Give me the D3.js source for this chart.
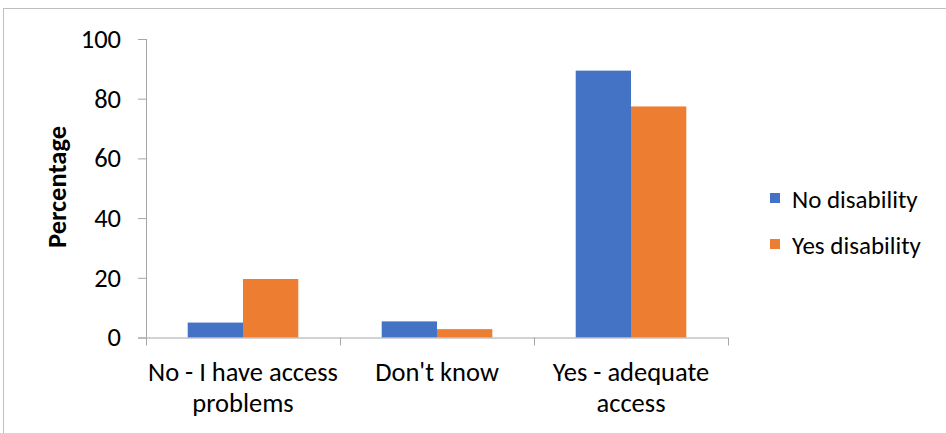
<!DOCTYPE html>
<html>
<head>
<meta charset="utf-8">
<script src="https://cdn.jsdelivr.net/npm/d3@7"></script>
<style>
  html, body { margin: 0; padding: 0; background: #fff; }
  svg { display: block; font-family: Carlito, Calibri, "Open Sans", sans-serif; }
</style>
</head>
<body>
<svg id="chart" width="946" height="433"></svg>
<script>
// Access to services by disability status (%)
const categories = [["No - I have access", "problems"], ["Don't know"], ["Yes - adequate", "access"]];
const categoryKeys = ["No - I have access problems", "Don't know", "Yes - adequate access"];
const seriesNames = ["No disability", "Yes disability"];
const noDisability = [5.0, 5.4, 89.4];
const yesDisability = [19.6, 2.8, 77.4];
const yTicks = [0, 20, 40, 60, 80, 100];
const colors = ["#4472c4", "#ed7d31"];

const FONT = "Carlito, Calibri, 'Open Sans', sans-serif";
const FS = 26.5;
const LEGEND_FS = 25;

const svg = d3.select("#chart");
const plot = { left: 146, right: 728, top: 39, bottom: 337.5 };

// outer chart frame
svg.append("rect")
  .attr("x", 3.5).attr("y", 8.5)
  .attr("width", 960).attr("height", 440)
  .attr("fill", "none").attr("stroke", "#bfbfbf").attr("stroke-width", 1);

const x = d3.scaleBand().domain(categoryKeys).range([plot.left, plot.right]).paddingInner(0).paddingOuter(0);
const inner = d3.scaleBand().domain(seriesNames).range([0, x.bandwidth()]).paddingInner(0).paddingOuter(0.754);
const y = d3.scaleLinear().domain([0, 100]).range([plot.bottom, plot.top]);

const rows = categoryKeys.map((k, i) => ({ key: k, values: [noDisability[i], yesDisability[i]] }));

// bars
const groups = svg.append("g").selectAll("g").data(rows).join("g")
  .attr("transform", d => `translate(${x(d.key)},0)`);
groups.selectAll("rect").data(d => d.values.map((v, j) => ({ name: seriesNames[j], v, j })))
  .join("rect")
  .attr("x", d => inner(d.name))
  .attr("width", inner.bandwidth())
  .attr("y", d => y(d.v))
  .attr("height", d => y(0) - y(d.v))
  .attr("fill", d => colors[d.j]);

// y axis
const yAxis = svg.append("g").attr("transform", `translate(${plot.left},0)`)
  .call(d3.axisLeft(y).tickValues(yTicks).tickSize(8).tickPadding(17).tickSizeOuter(0));
yAxis.select(".domain").attr("stroke", "#a6a6a6").attr("d", `M0.5,${plot.top}V${plot.bottom}`);
yAxis.selectAll(".tick line").attr("stroke", "#a6a6a6");
yAxis.selectAll(".tick text").attr("font-size", FS).attr("fill", "#000")
  .attr("font-family", FONT);

// x axis
const xAxis = svg.append("g").attr("transform", `translate(0,${plot.bottom})`);
xAxis.append("line").attr("x1", plot.left - 8).attr("x2", plot.right)
  .attr("y1", 0.5).attr("y2", 0.5).attr("stroke", "#a6a6a6");
const bounds = categoryKeys.map(k => x(k)).concat([x(categoryKeys[2]) + x.bandwidth()]);
xAxis.selectAll("line.tick").data(bounds).join("line").attr("class", "tick")
  .attr("x1", d => Math.round(d) + 0.5).attr("x2", d => Math.round(d) + 0.5)
  .attr("y1", 0).attr("y2", 8).attr("stroke", "#a6a6a6");

const labels = svg.append("g").selectAll("text").data(categories).join("text")
  .attr("x", (d, i) => x(categoryKeys[i]) + x.bandwidth() / 2)
  .attr("y", 381)
  .attr("text-anchor", "middle")
  .attr("font-size", FS).attr("fill", "#000");
labels.selectAll("tspan").data(d => d).join("tspan")
  .attr("x", function () { return d3.select(this.parentNode).attr("x"); })
  .attr("dy", (d, i) => i === 0 ? 0 : 31)
  .text(d => d);

// y axis title
svg.append("text")
  .attr("transform", "translate(66,187) rotate(-90)")
  .attr("text-anchor", "middle")
  .attr("font-size", FS).attr("font-weight", "bold").attr("fill", "#000")
  .text("Percentage");

// legend
const legend = svg.append("g").selectAll("g").data(seriesNames).join("g")
  .attr("transform", (d, i) => `translate(770,${193 + i * 46})`);
legend.append("rect").attr("width", 10).attr("height", 10).attr("fill", (d, i) => colors[i]);
legend.append("text").attr("x", 22).attr("y", 15)
  .attr("font-size", LEGEND_FS).attr("fill", "#000").text(d => d);
</script>
</body>
</html>
